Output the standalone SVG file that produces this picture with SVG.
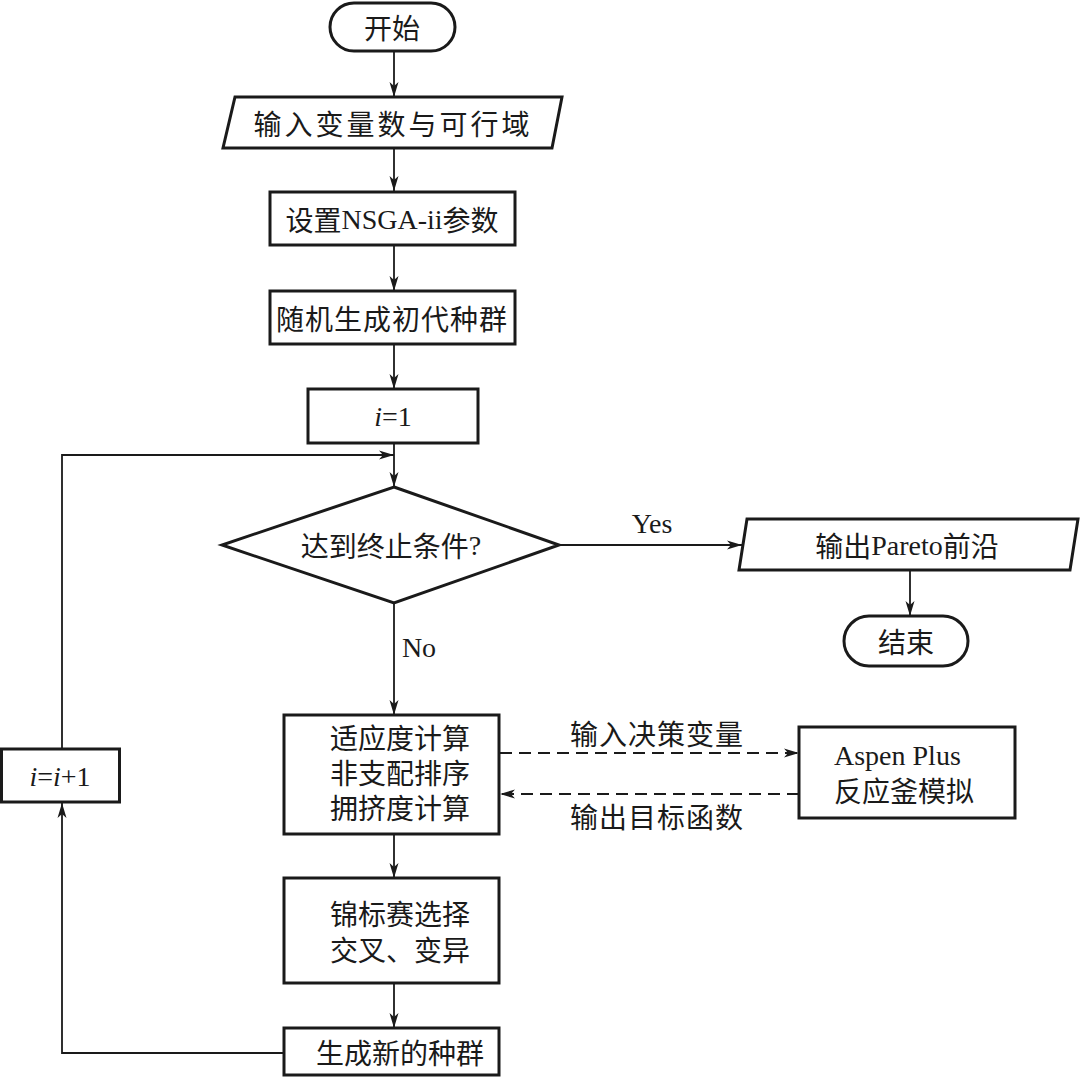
<svg xmlns="http://www.w3.org/2000/svg" width="1080" height="1077" viewBox="0 0 1080 1077">
<style>
.box{fill:#fff;stroke:#1a1a1a;stroke-width:3}
.ln{fill:none;stroke:#1a1a1a;stroke-width:1.8}
.dash{stroke-dasharray:12 7}
text{font-family:"Liberation Serif","Noto Sans CJK SC",serif;fill:#1a1a1a;font-size:28px;text-anchor:middle;dominant-baseline:central}
.cjk{font-family:"Noto Sans CJK SC","Liberation Serif",sans-serif}
.lat{font-family:"Liberation Serif",serif}
.it{font-style:italic}
.st{text-anchor:start}
</style>
<defs>
<marker id="ah" markerWidth="16" markerHeight="10" refX="15" refY="5" orient="auto" markerUnits="userSpaceOnUse">
<path d="M0,0.5 L15,5 L0,9.5 L4,5 Z" fill="#1a1a1a"/>
</marker>
</defs>
<rect width="1080" height="1077" fill="#fff"/>
<g id="connectors">
<line class="ln" x1="394" y1="52" x2="394" y2="97" marker-end="url(#ah)"/>
<line class="ln" x1="394" y1="148" x2="394" y2="191" marker-end="url(#ah)"/>
<line class="ln" x1="394" y1="245" x2="394" y2="291" marker-end="url(#ah)"/>
<line class="ln" x1="394" y1="344" x2="394" y2="389" marker-end="url(#ah)"/>
<line class="ln" x1="394" y1="443" x2="394" y2="487" marker-end="url(#ah)"/>
<polyline class="ln" points="62,749 62,455 394,455" marker-end="url(#ah)"/>
<polyline class="ln" points="283,1053 62,1053 62,803" marker-end="url(#ah)"/>
<line class="ln" x1="559" y1="545" x2="742" y2="545" marker-end="url(#ah)"/>
<line class="ln" x1="910" y1="570" x2="910" y2="616" marker-end="url(#ah)"/>
<line class="ln" x1="394" y1="603" x2="394" y2="715" marker-end="url(#ah)"/>
<line class="ln" x1="394" y1="834" x2="394" y2="878" marker-end="url(#ah)"/>
<line class="ln" x1="394" y1="983" x2="394" y2="1028" marker-end="url(#ah)"/>
<line class="ln dash" x1="500" y1="753" x2="799" y2="753" marker-end="url(#ah)"/>
<line class="ln dash" x1="799" y1="794" x2="500" y2="794" marker-end="url(#ah)"/>
<text class="lat" x="652" y="523" font-size="26">Yes</text>
<text class="lat" x="419" y="647" font-size="27">No</text>
<text class="cjk" x="657" y="733" font-size="28" letter-spacing="1">输入决策变量</text>
<text class="cjk" x="657" y="816" font-size="28" letter-spacing="1">输出目标函数</text>
</g>
<g id="start">
<rect class="box" x="330" y="3" width="125" height="48" rx="24"/>
<text class="cjk" x="392" y="27">开始</text>
</g>
<g id="input">
<polygon class="box" points="235,97 562,97 552,148 223,148"/>
<text class="cjk" x="393" y="123" font-size="30" letter-spacing="3">输入变量数与可行域</text>
</g>
<g id="setparam">
<rect class="box" x="270" y="192" width="245" height="53"/>
<text x="392" y="219" font-size="29"><tspan class="cjk">设置</tspan><tspan class="lat">NSGA-ii</tspan><tspan class="cjk">参数</tspan></text>
</g>
<g id="initpop">
<rect class="box" x="270" y="291" width="245" height="53"/>
<text class="cjk" x="392" y="318" font-size="28" letter-spacing="1">随机生成初代种群</text>
</g>
<g id="i1">
<rect class="box" x="308" y="389" width="170" height="54"/>
<text class="lat" x="393" y="416" font-size="27"><tspan class="it">i</tspan>=1</text>
</g>
<g id="decision">
<polygon class="box" points="394,487 559,545 394,603 222,545"/>
<text x="391" y="545" font-size="28"><tspan class="cjk">达到终止条件</tspan><tspan class="lat">?</tspan></text>
</g>
<g id="output">
<polygon class="box" points="747,519 1078,519 1070,570 739,570"/>
<text x="907" y="545" font-size="28"><tspan class="cjk">输出</tspan><tspan class="lat">Pareto</tspan><tspan class="cjk">前沿</tspan></text>
</g>
<g id="end">
<rect class="box" x="844" y="616" width="124" height="50" rx="25"/>
<text class="cjk" x="906" y="641">结束</text>
</g>
<g id="fitness">
<rect class="box" x="284" y="715" width="215" height="119"/>
<text x="400" y="739" font-size="29">适应度计算</text>
<text x="400" y="774" font-size="29">非支配排序</text>
<text x="400" y="809" font-size="29">拥挤度计算</text>
</g>
<g id="aspen">
<rect class="box" x="799" y="727" width="216" height="91"/>
<text class="lat st" x="834" y="755" font-size="28">Aspen Plus</text>
<text class="st" x="834" y="792" font-size="28">反应釜模拟</text>
</g>
<g id="select">
<rect class="box" x="284" y="878" width="215" height="105"/>
<text x="400" y="915" font-size="29">锦标赛选择</text>
<text x="400" y="951" font-size="29">交叉、变异</text>
</g>
<g id="newpop">
<rect class="box" x="284" y="1028" width="215" height="47"/>
<text class="cjk" x="400" y="1052" font-size="28">生成新的种群</text>
</g>
<g id="inc">
<rect class="box" x="1.5" y="749" width="118" height="53"/>
<text class="lat" x="60" y="776" font-size="26"><tspan class="it">i</tspan>=<tspan class="it">i</tspan>+1</text>
</g>
</svg>
